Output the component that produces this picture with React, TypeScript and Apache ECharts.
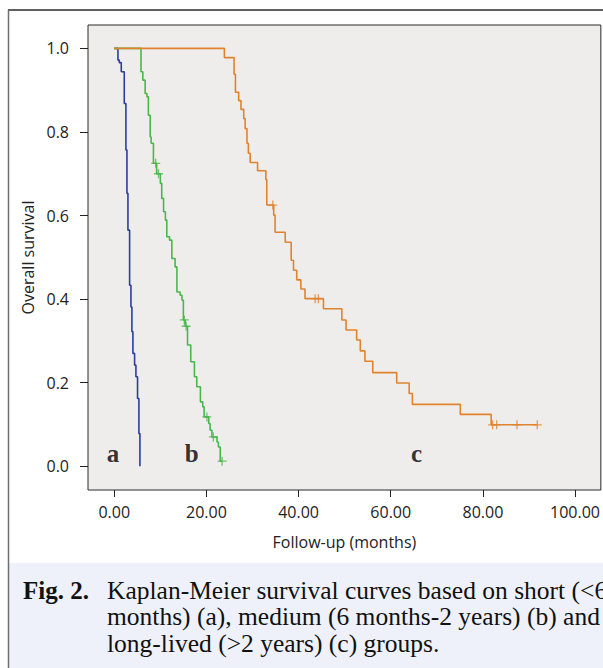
import React, { useEffect, useRef } from "react";
import * as echarts from "echarts";

// Axis ticks
const xTickValues = [0, 20, 40, 60, 80, 100];
const yTickValues = [0, 0.2, 0.4, 0.6, 0.8, 1.0];

// (a) short survivors: event times (months) and survival after each event
const shortTimes = [0.8, 1.08, 1.52, 2.17, 2.53, 2.75, 2.97, 3.33, 3.62, 3.83, 4.05, 4.41, 4.7, 5.05, 5.35, 5.57];
const shortSurvival = [0.972, 0.966, 0.944, 0.868, 0.757, 0.653, 0.565, 0.433, 0.381, 0.322, 0.27, 0.242, 0.214, 0.162, 0.078, 0.0];
const shortCensored: number[] = [];

// (b) medium survivors
const mediumTimes = [5.8, 6.2, 6.7, 7.1, 7.4, 7.8, 8.0, 8.5, 9.2, 10.0, 10.3, 10.7, 11.1, 11.4, 12.0, 12.5, 13.2, 13.6, 14.3, 14.7, 15.0, 15.4, 15.9, 16.6, 17.4, 17.9, 18.7, 19.2, 19.5, 20.5, 20.8, 21.2, 22.3, 22.6, 23.0];
const mediumSurvival = [0.944, 0.924, 0.892, 0.884, 0.84, 0.788, 0.773, 0.725, 0.7, 0.677, 0.641, 0.609, 0.589, 0.549, 0.541, 0.497, 0.477, 0.417, 0.409, 0.397, 0.35, 0.335, 0.29, 0.25, 0.214, 0.19, 0.154, 0.142, 0.118, 0.102, 0.086, 0.07, 0.058, 0.046, 0.012];
const mediumCensored = [9.0, 9.6, 15.2, 15.6, 20.1, 21.5, 23.4];

// (c) long-lived
const longTimes = [23.9, 26.0, 26.3, 27.0, 27.5, 28.1, 28.4, 28.8, 29.1, 29.5, 31.1, 32.9, 33.1, 34.6, 34.9, 37.1, 38.4, 38.9, 39.6, 40.5, 41.4, 45.4, 49.4, 50.3, 52.6, 53.4, 54.4, 56.1, 61.3, 64.0, 64.7, 75.1, 81.8];
const longSurvival = [0.978, 0.938, 0.895, 0.875, 0.854, 0.832, 0.808, 0.773, 0.749, 0.727, 0.707, 0.686, 0.625, 0.601, 0.56, 0.536, 0.493, 0.469, 0.446, 0.424, 0.401, 0.377, 0.35, 0.326, 0.302, 0.276, 0.251, 0.224, 0.199, 0.174, 0.148, 0.124, 0.099];
const longCensored = [34.4, 43.6, 44.3, 82.1, 83.0, 87.4, 91.8];

// Group labels placed in data coordinates
const groupLabels = ["a", "b", "c"];
const groupLabelX = [-0.3, 16.8, 65.6];
const groupLabelY = [0.03, 0.03, 0.03];

const colors = { short: "#2a3f98", medium: "#4bb64d", long: "#e0832f" };

function survivalAt(t: number, times: number[], surv: number[]) {
  let s = 1;
  for (let i = 0; i < times.length; i++) if (times[i] <= t) s = surv[i];
  return s;
}

function stepData(times: number[], surv: number[], censored: number[]) {
  const d: number[][] = [[0, 1]];
  times.forEach((t, i) => d.push([t, surv[i]]));
  const lastT = Math.max(times[times.length - 1], ...(censored.length ? censored : [0]));
  if (lastT > times[times.length - 1]) d.push([lastT, surv[surv.length - 1]]);
  return d;
}

function censorData(times: number[], surv: number[], censored: number[]) {
  return censored.map((t) => [t, survivalAt(t, times, surv)]);
}

const plus = "path://M5,0V10M0,5H10";

export default function App() {
  const ref = useRef<HTMLDivElement>(null);
  useEffect(() => {
    if (!ref.current) return;
    const chart = echarts.init(ref.current, undefined, { renderer: "svg" });
    const lineSeries = (name: string, times: number[], surv: number[], cens: number[], color: string) => ({
      name,
      type: "line",
      step: "end",
      showSymbol: false,
      data: stepData(times, surv, cens),
      lineStyle: { color, width: 1.6 },
      itemStyle: { color },
    });
    const censorSeries = (name: string, times: number[], surv: number[], cens: number[], color: string) => ({
      name,
      type: "scatter",
      symbol: plus,
      symbolSize: 9,
      data: censorData(times, surv, cens),
      itemStyle: { color, borderColor: color, borderWidth: 1.3 },
    });
    chart.setOption({
      animation: false,
      backgroundColor: "#ffffff",
      grid: {
        left: 88,
        top: 25,
        right: 2,
        bottom: 178,
        show: true,
        backgroundColor: "#eeedeb",
        borderColor: "#2a2a2a",
        borderWidth: 1,
      },
      xAxis: {
        type: "value",
        min: -5.7,
        max: 105.6,
        name: "Follow-up (months)",
        nameLocation: "middle",
        nameGap: 44,
        nameTextStyle: { fontFamily: "Open Sans", fontSize: 16, color: "#222" },
        axisLine: { show: false, onZero: false },
        splitLine: { show: false },
        axisTick: { show: true, inside: false, length: 7, customValues: xTickValues, lineStyle: { color: "#222", width: 1 } },
        axisLabel: {
          customValues: xTickValues,
          margin: 14,
          fontFamily: "Open Sans",
          fontSize: 16,
          color: "#222",
          formatter: (v: number) => v.toFixed(2),
        },
      },
      yAxis: {
        type: "value",
        min: -0.057,
        max: 1.056,
        name: "Overall survival",
        nameLocation: "middle",
        nameRotate: 90,
        nameGap: 50,
        nameTextStyle: { fontFamily: "Open Sans", fontSize: 16, color: "#222" },
        axisLine: { show: false, onZero: false },
        splitLine: { show: false },
        axisTick: { show: true, inside: false, length: 8, customValues: yTickValues, lineStyle: { color: "#222", width: 1 } },
        axisLabel: {
          customValues: yTickValues,
          margin: 19,
          fontFamily: "Open Sans",
          fontSize: 16,
          color: "#222",
          formatter: (v: number) => v.toFixed(1),
        },
      },
      series: [
        lineSeries("a", shortTimes, shortSurvival, shortCensored, colors.short),
        lineSeries("b", mediumTimes, mediumSurvival, mediumCensored, colors.medium),
        lineSeries("c", longTimes, longSurvival, longCensored, colors.long),
        censorSeries("b censored", mediumTimes, mediumSurvival, mediumCensored, colors.medium),
        censorSeries("c censored", longTimes, longSurvival, longCensored, colors.long),
        {
          type: "scatter",
          symbolSize: 0,
          itemStyle: { color: "#000" },
          data: groupLabels.map((l, i) => [groupLabelX[i], groupLabelY[i], l]),
          label: {
            show: true,
            position: "inside",
            formatter: (p: any) => p.data[2],
            fontFamily: "Liberation Serif",
            fontWeight: "bold",
            fontSize: 25,
            color: "#000",
            textBorderWidth: 0,
            textBorderColor: "transparent",
          },
        },
      ],
      graphic: [
        { type: "rect", silent: true, z: -1, shape: { x: 9, y: 563, width: 594, height: 105 }, style: { fill: "#eef1f9" } },
        { type: "line", shape: { x1: 8, y1: 10, x2: 603, y2: 10 }, style: { stroke: "#2b2b2b", lineWidth: 1.3 } },
        { type: "line", shape: { x1: 8.5, y1: 10, x2: 8.5, y2: 668 }, style: { stroke: "#6e6e6e", lineWidth: 1.5 } },
        {
          type: "text",
          x: 23,
          y: 590,
          style: { text: "Fig. 2.", fontFamily: "Liberation Serif", fontWeight: "bold", fontSize: 25, fill: "#111", verticalAlign: "middle" },
        },
        {
          type: "text",
          x: 107,
          y: 590,
          style: { text: "Kaplan-Meier survival curves based on short (<6", fontFamily: "Liberation Serif", fontSize: 25.5, fill: "#111", verticalAlign: "middle" },
        },
        {
          type: "text",
          x: 107,
          y: 616.5,
          style: { text: "months) (a), medium (6 months-2 years) (b) and", fontFamily: "Liberation Serif", fontSize: 25.5, fill: "#111", verticalAlign: "middle" },
        },
        {
          type: "text",
          x: 107,
          y: 643,
          style: { text: "long-lived (>2 years) (c) groups.", fontFamily: "Liberation Serif", fontSize: 25.5, fill: "#111", verticalAlign: "middle" },
        },
      ],
    });
    return () => chart.dispose();
  }, []);
  return <div ref={ref} style={{ position: "absolute", left: 0, top: 0, width: 603, height: 668 }} />;
}
